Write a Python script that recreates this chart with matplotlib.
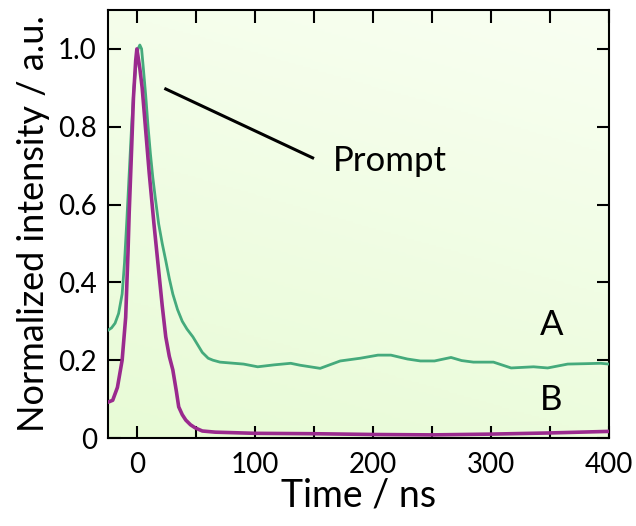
import numpy as np
import matplotlib.pyplot as plt
from matplotlib.ticker import MultipleLocator, FixedLocator
from matplotlib.colors import LinearSegmentedColormap

plt.rcParams['font.family'] = ['Lato', 'DejaVu Sans']

# Curve A (green)
time_a = [-25, -22, -19, -16, -13, -11, -9, -7, -5, -3, -1, 0.5, 2, 3.5, 5, 7, 9, 11, 13,
          15, 18, 21, 24, 27, 30, 34, 38, 42, 47, 51, 55, 60, 64,
          70, 82, 90, 102, 116, 130, 138, 155, 172, 189, 204, 215, 229, 240, 252,
          266, 275, 285, 302, 317, 336, 348, 365, 380, 393, 400]
int_a = [0.277, 0.283, 0.295, 0.32, 0.37, 0.45, 0.56, 0.68, 0.80, 0.90, 0.97, 1.0, 1.01,
         1.0, 0.95, 0.88, 0.80, 0.73, 0.67, 0.62, 0.55, 0.50, 0.456, 0.41, 0.37, 0.33,
         0.30, 0.28, 0.26, 0.24, 0.22, 0.205, 0.20, 0.195, 0.192, 0.19, 0.183, 0.188,
         0.192, 0.187, 0.179, 0.198, 0.205, 0.213, 0.213, 0.203, 0.198, 0.198, 0.207,
         0.199, 0.195, 0.195, 0.18, 0.183, 0.18, 0.19, 0.191, 0.192, 0.19]

# Curve B (purple)
time_b = [-25, -21, -17, -13, -10, -8, -7, -5, -3.4, -1.5, -0.5, 0.5, 2, 4, 7, 10, 14,
          18, 21, 24, 27, 30, 33, 35, 38, 41, 45, 49, 55, 66, 100, 150, 200, 250, 300,
          350, 400]
int_b = [0.092, 0.097, 0.13, 0.2, 0.31, 0.48, 0.58, 0.74, 0.875, 0.97, 1.0, 0.98, 0.95,
         0.9, 0.79, 0.68, 0.55, 0.43, 0.34, 0.26, 0.21, 0.175, 0.12, 0.08, 0.06, 0.046,
         0.034, 0.026, 0.018, 0.015, 0.012, 0.011, 0.009, 0.008, 0.01, 0.013, 0.017]

fig = plt.figure(figsize=(6.36, 5.26), dpi=100)
ax = fig.add_axes([0.1698, 0.1673, 0.7877, 0.8137])

# soft green background gradient
cmap = LinearSegmentedColormap.from_list('bg', ['#e8fbd6', '#f9fff2'])
yy, xx = np.mgrid[0:1:200j, 0:1:200j]
grad = 0.75 * yy + 0.25 * xx
ax.imshow(grad, extent=[-25, 400, 0, 1.1], origin='lower', aspect='auto',
          cmap=cmap, zorder=0)

ax.plot(time_a, int_a, color='#45aa7c', lw=2.0, zorder=3)
ax.plot(time_b, int_b, color='#9a2a8e', lw=2.6, zorder=4)

ax.set_xlim(-25, 400)
ax.set_ylim(0, 1.1)

ax.xaxis.set_major_locator(FixedLocator([0, 100, 200, 300, 400]))
ax.xaxis.set_minor_locator(MultipleLocator(50))
ax.yaxis.set_major_locator(FixedLocator([0, 0.2, 0.4, 0.6, 0.8, 1.0]))
ax.set_yticklabels(['0', '0.2', '0.4', '0.6', '0.8', '1.0'])
ax.tick_params(which='both', direction='in', top=True, right=True,
               length=9, width=1.5, labelsize=20)
ax.tick_params(axis='x', pad=10)
ax.tick_params(axis='y', pad=8)

for s in ax.spines.values():
    s.set_linewidth(1.5)

ax.set_xlabel('Time / ns', fontsize=27, labelpad=0)
ax.set_ylabel('Normalized intensity / a.u.', fontsize=26, labelpad=6)

# Prompt annotation
ax.plot([24, 148.6], [0.897, 0.72], color='black', lw=2.2, zorder=5)
ax.text(166, 0.713, 'Prompt', fontsize=25, va='center', ha='left')
ax.text(351, 0.29, 'A', fontsize=25, va='center', ha='center')
ax.text(351, 0.097, 'B', fontsize=25, va='center', ha='center')

fig.savefig('out.png', dpi=100)
